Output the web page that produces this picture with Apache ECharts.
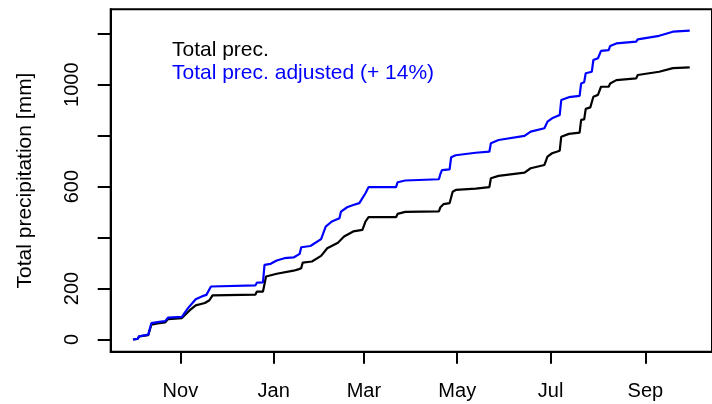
<!DOCTYPE html>
<html>
<head>
<meta charset="utf-8">
<script src="https://cdn.jsdelivr.net/npm/echarts@6/dist/echarts.min.js"></script>
<style>
html,body{margin:0;padding:0;background:#fff;}
#chart{width:712px;height:404px;}
</style>
</head>
<body>
<div id="chart"></div>
<script>
// Days counted from 1 October (hydrological year, Oct 1 = day 0)
var monthTickDays = [31, 92, 151, 212, 273, 335];
var monthTickLabels = ['Nov', 'Jan', 'Mar', 'May', 'Jul', 'Sep'];
var yTickValues = [0, 200, 400, 600, 800, 1000, 1200];
var yLabelValues = [0, 200, 600, 1000];

// Total precipitation (cumulative, mm)
var totalDays = [0,3,4,10,11,12,16,21,23,32,34,37,41,47,50,52,80,81,85,87,94,105,108,110,111,117,123,127,134,138,144,150,152,154,172,173,178,200,201,203,207,209,211,224,233,234,239,256,260,269,271,274,279,280,285,292,293,295,296,299,301,304,306,311,312,316,329,330,344,353,364];
var totalValues = [0,2,12,17,20,58,63,67,80,84,96,114,134,143,154,173,176,188,188,247,258,270,275,280,302,306,328,358,380,404,424,430,463,480,480,493,501,503,519,531,535,580,587,592,598,633,642,655,672,685,718,731,741,796,807,812,862,864,905,911,953,960,992,992,1005,1018,1025,1038,1051,1065,1068];

// Total precipitation adjusted (+ 14%) (cumulative, mm)
var adjDays = [0,3,4,10,11,12,16,21,23,32,34,36,41,45,48,51,80,81,85,86,90,94,99,105,106,109,110,116,123,126,130,135,136,140,144,148,152,154,172,173,178,200,201,202,207,208,211,224,233,234,239,256,260,269,271,274,279,280,285,292,293,295,296,300,301,304,306,311,312,316,329,330,344,353,364];
var adjValues = [0,2,12,19,22,64,68,72,86,89,106,123,158,169,175,208,212,223,224,293,297,310,319,322,327,336,362,367,394,443,463,476,502,519,528,535,574,598,598,617,624,629,650,665,668,715,723,733,737,770,783,799,816,829,855,868,881,940,951,956,1005,1010,1045,1051,1097,1104,1133,1136,1152,1162,1169,1178,1192,1208,1212];

function pairs(xs, ys) {
  var out = [];
  for (var i = 0; i < xs.length; i++) out.push([xs[i], ys[i]]);
  return out;
}

var FONT = "'Liberation Sans', Arial, Helvetica, sans-serif";
var chart = echarts.init(document.getElementById('chart'), null, {renderer: 'canvas'});
chart.setOption({
  animation: false,
  backgroundColor: '#fff',
  grid: {
    left: 110.7, top: 9.3, width: 609, height: 342.4,
    show: true, borderColor: '#000', borderWidth: 2, backgroundColor: 'transparent'
  },
  xAxis: {
    type: 'value',
    min: -14.56, max: 378.56,
    splitLine: {show: false},
    axisLine: {show: true, onZero: false, lineStyle: {color: '#000', width: 2}},
    axisTick: {show: true, inside: false, length: 12, customValues: monthTickDays, lineStyle: {color: '#000', width: 2}},
    axisLabel: {
      show: true, customValues: monthTickDays, margin: 30,
      fontFamily: FONT, fontSize: 20, color: '#000',
      formatter: function (v) {
        var i = monthTickDays.indexOf(Math.round(v));
        return i >= 0 ? monthTickLabels[i] : '';
      }
    }
  },
  yAxis: {
    type: 'value',
    min: -48, max: 1296,
    name: 'Total precipitation [mm]',
    nameLocation: 'middle',
    nameGap: 75,
    nameRotate: 90,
    nameTextStyle: {fontFamily: FONT, fontSize: 21, color: '#000'},
    splitLine: {show: false},
    axisLine: {show: true, onZero: false, lineStyle: {color: '#000', width: 2}},
    axisTick: {show: true, inside: false, length: 13, customValues: yTickValues, lineStyle: {color: '#000', width: 2}},
    axisLabel: {
      show: true, customValues: yLabelValues, rotate: 90, margin: 28,
      fontFamily: FONT, fontSize: 20, color: '#000',
      formatter: function (v) { return String(v); }
    }
  },
  graphic: [
    {type: 'text', style: {x: 172, y: 50.5, text: 'Total prec.', font: '21px ' + FONT, fill: '#000', textVerticalAlign: 'middle'}},
    {type: 'text', style: {x: 172, y: 73, text: 'Total prec. adjusted (+ 14%)', font: '21px ' + FONT, fill: '#0000ff', textVerticalAlign: 'middle'}}
  ],
  series: [
    {
      name: 'Total prec.', type: 'line', data: pairs(totalDays, totalValues),
      showSymbol: false, symbol: 'none', lineStyle: {color: '#000', width: 2.2}, itemStyle: {color: '#000'}
    },
    {
      name: 'Total prec. adjusted (+ 14%)', type: 'line', data: pairs(adjDays, adjValues),
      showSymbol: false, symbol: 'none', lineStyle: {color: '#0000ff', width: 2.2}, itemStyle: {color: '#0000ff'}
    }
  ]
});
</script>
</body>
</html>
